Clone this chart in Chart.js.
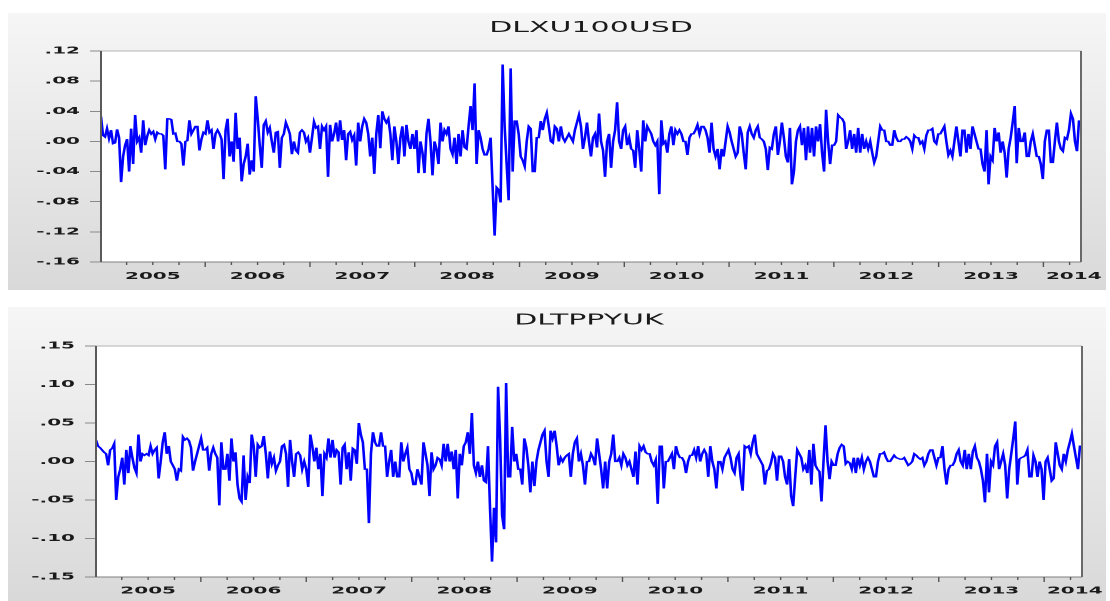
<!DOCTYPE html>
<html>
<head>
<meta charset="utf-8">
<title>DLXU100USD / DLTPPYUK</title>
<script src="https://cdn.jsdelivr.net/npm/chart.js@4.4.0/dist/chart.umd.min.js"></script>
<style>
  html, body { margin: 0; padding: 0; background: #ffffff; overflow: hidden; }
  /* the picture is stretched 2x horizontally, so the charts are drawn at half width */
  .panel { width: 555px; transform: scaleX(2); transform-origin: 0 0; }
  .panel canvas { display: block; }
</style>
</head>
<body>
<div class="panel"><canvas id="topChart" width="555" height="300"></canvas></div>
<div class="panel"><canvas id="bottomChart" width="555" height="301"></canvas></div>
<script>
// weekly observations, first week of 2005 to mid-May 2014
const firstWeek = Date.UTC(2005, 0, 3);

const dlxu100usd = [
  0.033, 0.008, 0.006, 0.017, 0.004, 0.015, -0.003, -0.002, 0.016, 0.005,
  -0.054, -0.020, -0.005, 0.003, -0.040, 0.017, -0.030, 0.035, 0.000, 0.005,
  -0.015, 0.028, -0.005, 0.007, 0.015, 0.010, 0.013, 0.003, 0.012, 0.010,
  0.010, 0.008, -0.037, 0.030, 0.030, 0.029, 0.010, 0.011, 0.000, 0.000,
  -0.003, -0.032, 0.000, 0.001, 0.028, 0.010, 0.015, 0.020, 0.020, -0.012,
  0.003, 0.012, 0.010, 0.028, 0.012, 0.015, -0.010, 0.010, 0.015, 0.010,
  0.003, -0.050, 0.015, 0.030, -0.020, 0.000, -0.027, 0.038, -0.010, 0.005,
  -0.053, -0.030, -0.020, -0.003, -0.044, -0.025, -0.040, 0.060, 0.030, -0.005,
  -0.035, 0.022, 0.027, 0.012, 0.018, 0.000, -0.015, 0.012, 0.013, -0.035,
  0.005, 0.010, 0.025, 0.018, 0.010, -0.017, 0.000, -0.012, -0.015, 0.012,
  0.015, 0.012, 0.000, 0.005, -0.015, 0.005, 0.026, 0.018, 0.020, -0.010,
  0.020, 0.015, 0.020, -0.047, 0.022, 0.000, 0.010, 0.025, 0.000, 0.028,
  0.002, 0.015, -0.025, 0.010, 0.013, 0.002, 0.008, -0.032, 0.025, 0.000,
  0.020, 0.030, 0.025, 0.010, -0.020, 0.005, -0.043, 0.010, 0.035, -0.009,
  0.040, 0.030, 0.025, 0.030, 0.010, -0.025, 0.020, 0.000, -0.030, 0.005,
  0.020, -0.020, 0.022, 0.000, -0.010, 0.010, -0.010, 0.015, -0.042, 0.000,
  -0.015, -0.042, 0.010, 0.030, 0.000, -0.045, 0.000, -0.010, -0.030, 0.025,
  0.000, 0.015, 0.010, 0.020, -0.010, -0.017, 0.005, -0.030, 0.010, -0.020,
  0.015, -0.008, -0.010, 0.020, 0.047, 0.015, 0.077, -0.030, 0.015, 0.005,
  -0.010, -0.018, -0.018, -0.010, 0.005, -0.060, -0.125, -0.061, -0.064, -0.081,
  0.102, 0.020, -0.030, -0.078, 0.097, -0.040, 0.027, 0.027, 0.010, -0.020,
  -0.025, -0.033, 0.000, 0.020, 0.017, -0.040, -0.040, 0.005, 0.005, 0.027,
  0.015, 0.030, 0.038, 0.020, 0.000, -0.002, 0.020, 0.017, 0.000, 0.020,
  0.005, 0.000, 0.005, 0.010, 0.005, 0.000, 0.015, 0.025, 0.035, 0.020,
  -0.010, 0.005, 0.025, 0.000, -0.020, 0.005, 0.010, -0.008, 0.037, 0.000,
  -0.012, -0.047, 0.000, 0.010, -0.035, 0.000, 0.015, 0.052, 0.000, -0.010,
  0.015, 0.020, -0.005, 0.005, -0.010, -0.012, -0.035, 0.015, -0.010, -0.040,
  0.028, 0.000, 0.020, 0.015, 0.010, 0.000, -0.005, 0.000, -0.070, 0.028,
  -0.003, 0.000, -0.015, 0.010, 0.020, -0.005, 0.015, 0.010, 0.015, 0.010,
  0.000, 0.000, -0.018, 0.005, 0.010, 0.010, 0.015, 0.022, 0.010, 0.020,
  0.020, 0.015, 0.005, -0.015, 0.025, -0.010, -0.020, -0.010, -0.037, -0.010,
  -0.020, 0.000, 0.020, 0.012, 0.000, -0.010, -0.020, -0.015, 0.020, 0.010,
  -0.015, -0.037, 0.012, 0.020, 0.010, 0.005, 0.015, 0.020, 0.005, 0.003,
  0.000, -0.010, -0.038, -0.008, -0.010, 0.010, 0.020, -0.018, 0.000, 0.025,
  0.005, -0.020, -0.028, 0.018, -0.057, -0.040, 0.000, 0.015, 0.020, -0.005,
  0.018, -0.025, 0.020, -0.015, 0.018, -0.020, 0.020, 0.000, 0.023, -0.015,
  -0.040, 0.042, 0.000, -0.030, -0.005, -0.005, 0.000, 0.035, 0.032, 0.030,
  0.025, -0.010, 0.000, 0.015, -0.010, 0.010, -0.015, 0.018, -0.015, 0.010,
  -0.010, 0.000, -0.010, 0.000, -0.015, -0.028, -0.020, 0.000, 0.020, 0.015,
  0.015, 0.000, 0.000, -0.005, -0.005, 0.015, 0.005, 0.000, 0.000, 0.003,
  0.003, 0.006, 0.004, 0.000, -0.010, 0.008, 0.005, 0.005, -0.003, 0.000,
  -0.010, 0.008, 0.015, 0.015, 0.017, 0.000, -0.003, 0.010, 0.010, 0.015,
  0.020, 0.000, -0.018, -0.012, -0.020, 0.000, 0.020, 0.000, -0.020, 0.015,
  0.015, -0.015, 0.010, -0.010, 0.020, 0.010, 0.000, -0.010, -0.010, -0.030,
  -0.040, 0.015, -0.057, -0.020, -0.025, 0.018, 0.000, 0.012, -0.015, 0.000,
  -0.015, -0.048, -0.010, 0.005, 0.025, 0.047, -0.029, 0.018, 0.000, 0.000,
  0.012, -0.020, -0.020, 0.000, 0.010, -0.005, -0.020, -0.020, -0.030, -0.050,
  0.000, 0.015, 0.015, -0.028, -0.028, 0.000, 0.025, 0.000, -0.010, -0.013,
  0.005, 0.003, 0.015, 0.037, 0.030, 0.000, -0.013, 0.027, 0.027
];

const dltppyuk = [
  0.028, 0.020, 0.018, 0.015, 0.012, 0.010, -0.005, 0.015, 0.017, 0.023,
  -0.050, -0.020, -0.010, 0.005, -0.030, 0.015, -0.015, 0.020, 0.005, -0.008,
  -0.015, 0.035, 0.000, 0.010, 0.008, 0.010, 0.008, 0.020, 0.010, 0.015,
  0.018, -0.022, 0.000, 0.025, 0.038, 0.010, 0.020, 0.000, -0.005, -0.010,
  -0.025, -0.010, -0.012, 0.032, 0.028, 0.030, 0.027, 0.018, -0.012, 0.000,
  0.010, 0.020, 0.030, 0.015, 0.015, 0.018, -0.012, 0.010, 0.018, 0.010,
  0.005, -0.057, 0.025, -0.010, -0.010, 0.010, -0.025, 0.030, 0.000, 0.012,
  -0.030, -0.048, -0.052, 0.008, -0.050, -0.020, -0.028, 0.035, 0.020, -0.020,
  0.022, 0.018, 0.020, 0.033, 0.010, -0.022, 0.013, -0.003, 0.005, -0.012,
  -0.005, 0.000, 0.020, 0.022, 0.010, -0.033, 0.028, 0.000, -0.020, 0.010,
  0.012, 0.008, -0.010, 0.000, -0.010, -0.033, 0.035, 0.020, 0.000, 0.018,
  -0.010, 0.010, -0.045, 0.010, 0.005, 0.030, 0.005, 0.028, 0.005, 0.015,
  0.012, -0.030, 0.018, 0.022, -0.010, 0.012, -0.025, 0.017, 0.015, -0.003,
  0.050, 0.035, 0.025, -0.010, -0.010, -0.080, 0.010, 0.038, 0.025, 0.020,
  0.020, 0.038, 0.020, 0.020, -0.020, 0.000, 0.015, -0.020, 0.000, -0.020,
  -0.020, 0.025, 0.000, 0.010, 0.018, -0.010, -0.015, -0.030, -0.030, -0.010,
  -0.020, -0.030, 0.025, 0.010, -0.005, -0.045, 0.012, -0.010, -0.005, 0.005,
  0.003, -0.005, 0.023, 0.000, 0.023, 0.000, 0.013, -0.010, 0.015, -0.048,
  0.010, -0.005, 0.020, 0.025, 0.038, 0.010, 0.063, -0.005, -0.015, 0.000,
  -0.020, -0.005, -0.025, -0.027, 0.020, -0.060, -0.130, -0.060, -0.105, 0.097,
  0.030, -0.070, -0.088, 0.102, -0.020, -0.020, 0.045, 0.000, 0.010, -0.010,
  -0.010, -0.030, 0.030, 0.018, -0.005, -0.040, 0.000, -0.032, 0.000, 0.015,
  0.025, 0.035, 0.040, 0.000, -0.020, 0.040, 0.030, 0.040, 0.020, -0.005,
  0.005, 0.000, 0.005, 0.008, 0.010, -0.020, 0.010, 0.025, 0.030, 0.000,
  0.010, -0.005, -0.030, 0.000, 0.000, 0.010, 0.005, -0.005, 0.030, 0.010,
  -0.010, -0.035, 0.000, -0.035, 0.000, 0.010, 0.035, 0.000, 0.000, 0.005,
  -0.005, 0.010, 0.005, -0.005, 0.000, -0.010, -0.020, 0.013, -0.030, 0.020,
  0.015, 0.020, 0.012, 0.010, 0.010, 0.000, -0.005, 0.002, -0.055, 0.020,
  0.020, -0.035, 0.000, 0.000, 0.005, 0.010, -0.010, 0.020, 0.010, 0.005,
  0.005, 0.000, -0.015, 0.000, 0.008, 0.008, 0.015, 0.005, 0.020, 0.000,
  0.010, 0.015, 0.010, -0.020, 0.020, 0.000, -0.010, -0.035, 0.000, 0.000,
  -0.010, 0.005, 0.010, 0.015, 0.005, -0.010, -0.015, 0.005, 0.010, -0.020,
  -0.038, 0.020, 0.018, 0.020, 0.010, 0.025, 0.035, 0.010, 0.005, 0.000,
  -0.005, -0.030, -0.012, -0.010, -0.002, 0.010, 0.005, -0.025, 0.007, 0.007,
  0.000, -0.020, -0.030, 0.003, -0.045, -0.058, -0.020, 0.015, 0.010, 0.005,
  -0.010, -0.005, -0.015, 0.015, -0.030, 0.023, -0.005, -0.010, -0.013, -0.052,
  0.000, 0.047, 0.000, -0.023, 0.000, -0.005, -0.005, 0.010, 0.018, 0.022,
  0.020, -0.003, 0.000, -0.002, -0.010, 0.005, -0.015, 0.005, -0.005, 0.005,
  -0.010, 0.000, 0.005, 0.000, -0.010, -0.020, -0.020, 0.000, 0.010, 0.010,
  0.012, 0.005, 0.000, 0.000, 0.004, 0.008, 0.005, 0.004, 0.003, 0.003,
  0.005, 0.000, -0.005, -0.003, 0.000, 0.010, 0.008, 0.005, 0.003, 0.005,
  -0.005, 0.000, 0.010, 0.015, 0.015, 0.005, -0.005, 0.005, 0.005, 0.020,
  -0.010, -0.030, -0.010, -0.005, -0.005, 0.000, 0.010, 0.015, 0.000, -0.005,
  0.015, -0.010, 0.010, -0.010, 0.013, 0.020, 0.005, 0.000, -0.010, -0.025,
  -0.053, 0.010, -0.040, 0.000, -0.005, 0.020, 0.025, -0.010, 0.000, 0.010,
  -0.005, -0.048, -0.010, 0.010, 0.030, 0.052, -0.030, 0.003, 0.005, 0.006,
  0.008, 0.015, -0.020, -0.020, 0.008, 0.000, -0.020, 0.000, -0.010, -0.050,
  0.000, 0.005, -0.010, -0.025, -0.022, 0.025, 0.010, -0.005, -0.010, 0.010,
  0.000, 0.015, 0.025, 0.036, 0.020, 0.005, -0.010, 0.020, 0.020
];

// axis ticks and labels
const topYTicks = [0.12, 0.08, 0.04, 0.00, -0.04, -0.08, -0.12, -0.16];
const topYLabels = ['.12', '.08', '.04', '.00', '-.04', '-.08', '-.12', '-.16'];
const bottomYTicks = [0.15, 0.10, 0.05, 0.00, -0.05, -0.10, -0.15];
const bottomYLabels = ['.15', '.10', '.05', '.00', '-.05', '-.10', '-.15'];
const yearLabels = ['2005', '2006', '2007', '2008', '2009', '2010', '2011', '2012', '2013', '2014'];
const yearLabelAt = [2005.5, 2006.5, 2007.5, 2008.5, 2009.5, 2010.5, 2011.5, 2012.5, 2013.5, 2014.29];

const FONT = "'DejaVu Sans', 'Liberation Sans', sans-serif";

// date (ms) -> decimal year
function toDecimalYear(ms) {
    const y = new Date(ms).getUTCFullYear();
    const start = Date.UTC(y, 0, 1);
    const end = Date.UTC(y + 1, 0, 1);
    return y + (ms - start) / (end - start);
}

const weekDates = dlxu100usd.map((_, i) => firstWeek + i * 7 * 86400000);
const weekX = weekDates.map(toDecimalYear);

// quarter tick marks along the time axis
const quarterMarks = [];
for (let q = 2005 * 4 + 1; q <= 2014 * 4 + 1; q++) quarterMarks.push(q / 4);

// grey panel behind each graph, white plot area
const panelPlugin = {
    id: 'panel',
    beforeDraw(chart, args, opts) {
        const ctx = chart.ctx;
        const a = chart.chartArea;
        ctx.save();
        ctx.fillStyle = '#ffffff';
        ctx.fillRect(0, 0, chart.width, chart.height);
        const g = ctx.createLinearGradient(0, opts.top, 0, opts.bottom);
        g.addColorStop(0, '#f6f6f6');
        g.addColorStop(1, '#d9d9d9');
        ctx.fillStyle = g;
        ctx.fillRect(opts.left, opts.top, opts.right - opts.left, opts.bottom - opts.top);
        ctx.fillStyle = '#ffffff';
        ctx.fillRect(a.left, a.top, a.right - a.left, a.bottom - a.top);
        ctx.restore();
    },
    afterDraw(chart) {
        const ctx = chart.ctx;
        const a = chart.chartArea;
        const xs = chart.scales.x;
        ctx.save();
        ctx.lineWidth = 1;
        ctx.strokeStyle = '#b4b4b4';
        ctx.beginPath(); ctx.moveTo(a.left, a.top); ctx.lineTo(a.right, a.top); ctx.stroke();
        ctx.strokeStyle = '#808080';
        ctx.beginPath(); ctx.moveTo(a.left, a.bottom); ctx.lineTo(a.right, a.bottom); ctx.stroke();
        ctx.strokeStyle = '#6a6a6a';
        ctx.beginPath(); ctx.moveTo(a.right, a.top); ctx.lineTo(a.right, a.bottom); ctx.stroke();
        ctx.strokeStyle = '#5a5a5a';
        ctx.beginPath(); ctx.moveTo(a.left, a.top); ctx.lineTo(a.left, a.bottom); ctx.stroke();
        // quarter ticks, longer at year starts
        ctx.strokeStyle = '#555555';
        ctx.lineWidth = 0.7;
        quarterMarks.forEach(v => {
            if (v <= xs.min || v >= xs.max) return;
            const px = xs.getPixelForValue(v);
            const len = Number.isInteger(v) ? 5 : 3;
            ctx.beginPath(); ctx.moveTo(px, a.bottom); ctx.lineTo(px, a.bottom + len); ctx.stroke();
        });
        ctx.restore();
    }
};

function createSeriesChart(canvasId, title, values, yTicks, yLabels, lay) {
    const ctx = document.getElementById(canvasId).getContext('2d');
    return new Chart(ctx, {
        type: 'line',
        data: {
            datasets: [{
                label: title,
                data: values.map((v, i) => ({ x: weekX[i], y: v })),
                borderColor: '#0000ff',
                borderWidth: 1.3,
                pointRadius: 0,
                tension: 0,
                fill: false
            }]
        },
        options: {
            responsive: false,
            animation: false,
            devicePixelRatio: 2,
            events: [],
            layout: { padding: lay.padding },
            plugins: {
                legend: { display: false },
                tooltip: { enabled: false },
                title: {
                    display: true,
                    text: title,
                    fullSize: false,
                    color: '#1a1a1a',
                    font: { family: FONT, size: 15, weight: 'normal', lineHeight: 1.2 },
                    padding: lay.titlePadding
                },
                panel: lay.panel
            },
            scales: {
                x: {
                    type: 'linear',
                    min: weekX[0],
                    max: weekX[weekX.length - 1],
                    afterBuildTicks: s => { s.ticks = yearLabelAt.map(v => ({ value: v })); },
                    afterFit: s => { s.height = lay.xHeight; s.paddingLeft = 0; s.paddingRight = 0; },
                    ticks: {
                        autoSkip: false,
                        maxRotation: 0,
                        padding: lay.xLabelPad,
                        color: '#1a1a1a',
                        font: { family: FONT, size: 10, weight: 'bold' },
                        callback: (v, i) => yearLabels[i]
                    },
                    grid: { display: false, drawTicks: false },
                    border: { display: false }
                },
                y: {
                    min: yTicks[yTicks.length - 1],
                    max: yTicks[0],
                    afterBuildTicks: s => { s.ticks = yTicks.map(v => ({ value: v })); },
                    afterFit: s => { s.width = lay.yWidth; s.paddingTop = 0; s.paddingBottom = 0; },
                    ticks: {
                        padding: 5,
                        color: '#1a1a1a',
                        font: { family: FONT, size: 10, weight: 'bold' },
                        callback: (v, i) => yLabels[i]
                    },
                    grid: {
                        drawOnChartArea: false,
                        drawTicks: true,
                        tickLength: 5.5,
                        tickColor: '#8a8a8a',
                        lineWidth: 1
                    },
                    border: { display: false }
                }
            }
        },
        plugins: [panelPlugin]
    });
}

createSeriesChart('topChart', 'DLXU100USD', dlxu100usd, topYTicks, topYLabels, {
    padding: { top: 15, left: 4, right: 14.5, bottom: 10 },
    titlePadding: { top: 4, bottom: 14 },
    xHeight: 28,
    xLabelPad: 8.5,
    yWidth: 46.5,
    panel: { left: 4, top: 13, right: 553, bottom: 290 }
});

createSeriesChart('bottomChart', 'DLTPPYUK', dltppyuk, bottomYTicks, bottomYLabels, {
    padding: { top: 8, left: 4, right: 14, bottom: 4 },
    titlePadding: { top: 3.5, bottom: 16.5 },
    xHeight: 20,
    xLabelPad: 8,
    yWidth: 44,
    panel: { left: 4, top: 7, right: 553, bottom: 301 }
});
</script>
</body>
</html>
